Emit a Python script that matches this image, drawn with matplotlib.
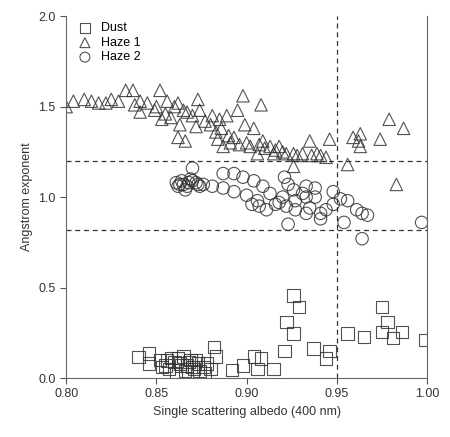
import matplotlib
matplotlib.use('Agg')
import matplotlib.pyplot as plt

plt.rcParams['font.family'] = ['Liberation Sans', 'DejaVu Sans']

# Dust
dust_x = [0.840, 0.846, 0.846, 0.852, 0.856, 0.860, 0.857, 0.861, 0.865, 0.867, 0.870, 0.873,
          0.876, 0.877, 0.882, 0.883, 0.880, 0.892, 0.898, 0.904, 0.908, 0.906, 0.915, 0.921,
          0.922, 0.926, 0.929, 0.926, 0.937, 0.944, 0.946, 0.956, 0.965, 0.975, 0.975, 0.978,
          0.981, 0.986, 0.999, 0.855, 0.858, 0.863, 0.866, 0.869, 0.871, 0.874, 0.862, 0.868,
          0.878, 0.853, 0.864, 0.872]
dust_y = [0.116, 0.135, 0.080, 0.100, 0.097, 0.090, 0.050, 0.025, 0.120, 0.070, 0.060, 0.080,
          0.060, 0.025, 0.170, 0.120, 0.050, 0.043, 0.070, 0.120, 0.107, 0.050, 0.050, 0.150,
          0.310, 0.457, 0.393, 0.245, 0.162, 0.107, 0.150, 0.245, 0.227, 0.393, 0.255, 0.310,
          0.220, 0.255, 0.210, 0.070, 0.110, 0.080, 0.040, 0.100, 0.050, 0.040, 0.110, 0.090,
          0.080, 0.060, 0.070, 0.100]

# Haze 1
haze1_x = [0.800, 0.804, 0.810, 0.814, 0.822, 0.825, 0.829, 0.833, 0.837, 0.841, 0.841, 0.845,
           0.849, 0.852, 0.853, 0.856, 0.860, 0.862, 0.863, 0.862, 0.866, 0.867, 0.872, 0.873,
           0.874, 0.881, 0.880, 0.885, 0.889, 0.884, 0.886, 0.895, 0.898, 0.899, 0.904, 0.908,
           0.887, 0.891, 0.896, 0.902, 0.907, 0.909, 0.913, 0.916, 0.918, 0.906, 0.915, 0.922,
           0.926, 0.931, 0.935, 0.939, 0.944, 0.946, 0.956, 0.959, 0.963, 0.962, 0.963, 0.974,
           0.979, 0.983, 0.987, 0.926, 0.850, 0.855, 0.858, 0.865, 0.870, 0.877, 0.883, 0.890,
           0.893, 0.900, 0.910, 0.920, 0.928, 0.936, 0.941, 0.818, 0.838]
haze1_y = [1.50, 1.53, 1.54, 1.53, 1.52, 1.54, 1.53, 1.59, 1.59, 1.53, 1.47, 1.52,
           1.48, 1.59, 1.43, 1.53, 1.50, 1.52, 1.40, 1.33, 1.31, 1.47, 1.39, 1.54,
           1.48, 1.45, 1.40, 1.43, 1.45, 1.32, 1.38, 1.48, 1.56, 1.40, 1.38, 1.51,
           1.28, 1.30, 1.29, 1.28, 1.29, 1.31, 1.28, 1.26, 1.28, 1.24, 1.24, 1.24,
           1.24, 1.24, 1.31, 1.24, 1.22, 1.32, 1.18, 1.33, 1.35, 1.31, 1.28, 1.32,
           1.43, 1.07, 1.38, 1.17, 1.50, 1.46, 1.44, 1.48, 1.45, 1.42, 1.36, 1.34,
           1.33, 1.30, 1.27, 1.25, 1.23, 1.23, 1.23, 1.52, 1.51]

# Haze 2
haze2_x = [0.870, 0.861, 0.865, 0.868, 0.872, 0.876, 0.866, 0.862, 0.874, 0.881, 0.887, 0.887,
           0.893, 0.898, 0.904, 0.909, 0.893, 0.900, 0.906, 0.907, 0.911, 0.916, 0.921, 0.923,
           0.920, 0.922, 0.923, 0.927, 0.927, 0.933, 0.933, 0.931, 0.933, 0.938, 0.938, 0.941,
           0.941, 0.944, 0.948, 0.948, 0.952, 0.954, 0.956, 0.961, 0.964, 0.967, 0.964, 0.997,
           0.913, 0.926, 0.864, 0.867, 0.870, 0.873, 0.863, 0.869, 0.903, 0.918, 0.935]
haze2_y = [1.16, 1.08, 1.07, 1.08, 1.08, 1.07, 1.04, 1.06, 1.06, 1.06, 1.05, 1.13,
           1.13, 1.11, 1.09, 1.06, 1.03, 1.01, 0.98, 0.95, 0.93, 0.96, 1.11, 1.07,
           1.00, 0.95, 0.85, 0.98, 0.93, 1.06, 1.00, 1.02, 0.91, 1.05, 1.00, 0.91,
           0.88, 0.93, 1.03, 0.96, 0.99, 0.86, 0.98, 0.93, 0.91, 0.90, 0.77, 0.86,
           1.02, 1.04, 1.09, 1.06, 1.09, 1.07, 1.07, 1.10, 0.96, 0.97, 0.94]

fig = plt.figure(figsize=(4.5, 4.37), dpi=100)
ax = fig.add_axes([0.147, 0.135, 0.802, 0.828])

style = dict(s=80, facecolors='none', linewidths=0.8, alpha=0.85)
ax.scatter(dust_x, dust_y, marker='s', edgecolors='#333333', label='Dust', **style)
ax.scatter(haze1_x, haze1_y, marker='^', edgecolors='#333333', label='Haze 1', **style)
ax.scatter(haze2_x, haze2_y, marker='o', edgecolors='#333333', label='Haze 2', **style)

ax.axhline(1.2, color='#333333', ls='--', lw=0.9, dashes=(4, 3))
ax.axhline(0.82, color='#333333', ls='--', lw=0.9, dashes=(4, 3))
ax.axvline(0.95, color='#333333', ls='--', lw=0.9, dashes=(4, 3))

ax.set_xlim(0.80, 1.00)
ax.set_ylim(0.0, 2.0)
ax.set_xticks([0.80, 0.85, 0.90, 0.95, 1.00])
ax.set_yticks([0.0, 0.5, 1.0, 1.5, 2.0])
ax.xaxis.set_major_formatter(plt.FormatStrFormatter('%.2f'))
ax.yaxis.set_major_formatter(plt.FormatStrFormatter('%.1f'))
ax.tick_params(labelsize=9, length=4, color='#555555', labelcolor='#333333')
for sp in ax.spines.values():
    sp.set_color('#666666')
ax.spines['top'].set_visible(False)

ax.set_xlabel('Single scattering albedo (400 nm)', fontsize=9, color='#333333')
ax.set_ylabel('Angstrom exponent', fontsize=9, color='#333333')
ax.legend(loc='upper left', frameon=False, fontsize=9, handletextpad=0.3,
          borderaxespad=0.1, labelspacing=0.2, markerscale=0.8)

fig.savefig('out.png', dpi=100)
